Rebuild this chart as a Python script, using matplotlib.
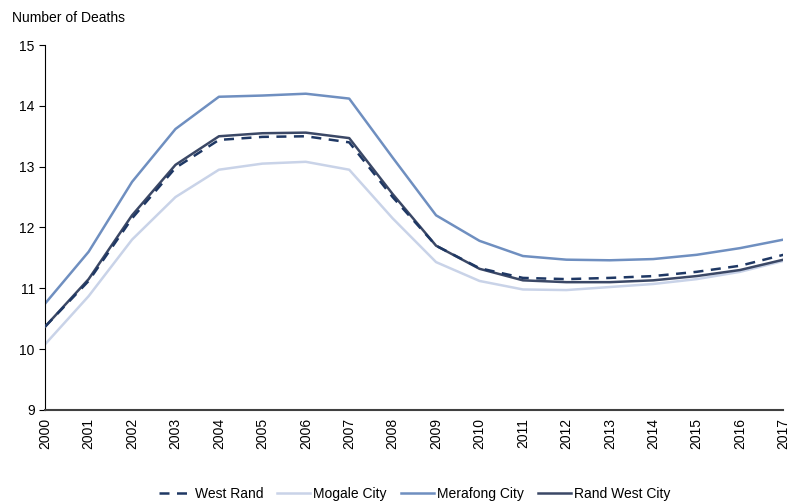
import matplotlib
matplotlib.use("Agg")
import matplotlib.pyplot as plt

plt.rcParams.update({"font.family": ["Liberation Sans", "DejaVu Sans"], "font.size": 10})

years = list(range(2000, 2018))
west_rand = [10.37, 11.12, 12.15, 12.98, 13.44, 13.49, 13.50, 13.40, 12.50, 11.70,
             11.33, 11.17, 11.15, 11.17, 11.20, 11.27, 11.37, 11.55]
mogale = [10.08, 10.87, 11.80, 12.50, 12.95, 13.05, 13.08, 12.95, 12.15, 11.43,
          11.12, 10.98, 10.97, 11.02, 11.07, 11.15, 11.27, 11.45]
merafong = [10.75, 11.60, 12.75, 13.62, 14.15, 14.17, 14.20, 14.12, 13.15, 12.20,
            11.78, 11.53, 11.47, 11.46, 11.48, 11.55, 11.66, 11.80]
rand_west = [10.37, 11.15, 12.20, 13.03, 13.50, 13.55, 13.56, 13.47, 12.55, 11.70,
             11.32, 11.13, 11.10, 11.10, 11.13, 11.20, 11.30, 11.47]

fig = plt.figure(figsize=(7.93, 5.01), dpi=100)
ax = fig.add_axes([0.057, 0.182, 0.931, 0.728])

ax.plot(years, west_rand, color="#1f3864", lw=1.8, ls=(0, (4, 3)), label="West Rand", zorder=4)
ax.plot(years, mogale, color="#c9d3e8", lw=1.8, label="Mogale City")
ax.plot(years, merafong, color="#6f8fc0", lw=1.8, label="Merafong City")
ax.plot(years, rand_west, color="#3b4866", lw=1.8, label="Rand West City", zorder=3)

ax.set_xlim(2000, 2017)
ax.set_ylim(9, 15)
ax.set_xticks(years)
ax.set_xticklabels([str(y) for y in years], rotation=90)
ax.set_yticks(range(9, 16))
ax.tick_params(axis="x", length=0, pad=6)
ax.tick_params(axis="y", length=4, direction="out")

for s in ("top", "right"):
    ax.spines[s].set_visible(False)
ax.spines["left"].set_color("black")
ax.spines["bottom"].set_color("#404040")
ax.spines["bottom"].set_linewidth(1.5)

fig.text(0.015, 0.965, "Number of Deaths", fontsize=10, ha="left", va="center")

ax.legend(loc="lower center", bbox_to_anchor=(0.5, -0.285), ncol=4, frameon=False,
          handlelength=2.4, columnspacing=1.0, handletextpad=0.2, fontsize=10)

fig.savefig("out.png", dpi=100)
